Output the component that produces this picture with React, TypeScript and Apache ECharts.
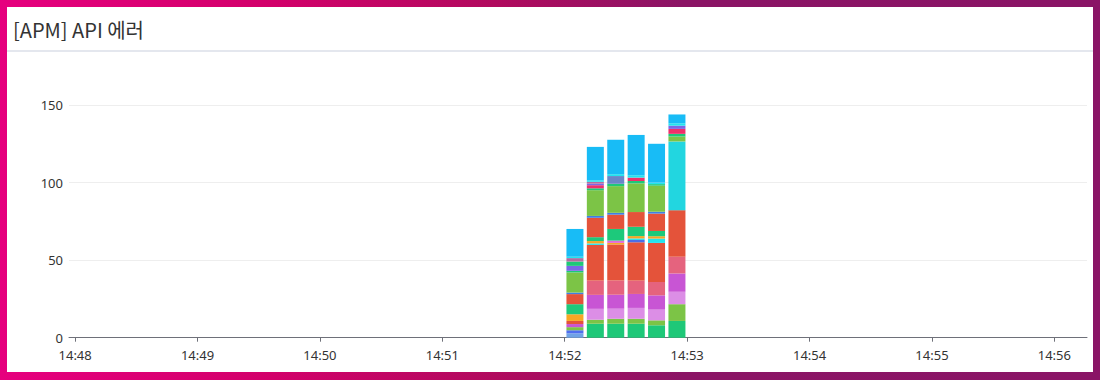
import React, { useEffect, useRef } from "react";
import * as echarts from "echarts";

// time buckets (bar centres, 10 s buckets)
const TIMES = ["14:52:05", "14:52:15", "14:52:25", "14:52:35", "14:52:45", "14:52:55"];
const AXIS_MIN = "14:47:57";
const AXIS_MAX = "14:56:16";
const Y_TICKS = [0, 50, 100, 150];

// stacked error counts, bottom -> top
const steelBlue = [2.8, 0, 0, 0, 0, 0];
const royalBlue = [2, 0, 0, 0, 0, 0];
const emerald = [0, 9, 9, 9, 8, 10.8];
const limeLow = [2, 2.6, 3.2, 3.2, 3.2, 10.8];
const lilac = [0, 7, 6.5, 7, 6.9, 8];
const orchid = [2, 9, 9, 9, 9.2, 11.8];
const rose = [0, 9.2, 9.2, 8.6, 8.6, 10.8];
const redMain = [2, 23, 23.2, 24.7, 25.2, 30];
const blueThin = [0, 0, 0, 1.5, 0, 0];
const cyanLow = [0, 1, 0, 1, 2.8, 0];
const orange = [4.3, 1.5, 1, 1.5, 1.5, 0];
const violetThin = [0, 0, 1.5, 0, 0, 0];
const teal = [6.5, 2.5, 7.5, 6, 3.4, 0];
const redUpper = [6.5, 12.5, 9.2, 9.5, 11.2, 0];
const blueLine = [1, 1.2, 1.2, 0, 1.2, 0];
const turquoise = [0, 0, 0, 0, 0, 44.3];
const limeHigh = [13, 16.6, 17.2, 18.5, 16.8, 3.2];
const greenThin = [1, 1.2, 1.5, 1.5, 1, 1.7];
const crimson = [0, 2, 0, 2.2, 0, 3.2];
const purple = [3.2, 1, 0, 0, 0, 2.1];
const tealHigh = [2.8, 0, 0, 0, 0, 0];
const slate = [0, 0, 5, 0, 0, 0];
const mauve = [2.2, 1.2, 0, 0, 0, 0];
const cyanHigh = [0.9, 1, 1.2, 1.5, 1, 1.5];
const sky = [17.9, 21.5, 22.2, 26, 25, 5.7];

const SERIES_LIST: [string, number[]][] = [
  ["steelBlue", steelBlue],
  ["royalBlue", royalBlue],
  ["emerald", emerald],
  ["limeLow", limeLow],
  ["lilac", lilac],
  ["orchid", orchid],
  ["rose", rose],
  ["redMain", redMain],
  ["blueThin", blueThin],
  ["cyanLow", cyanLow],
  ["orange", orange],
  ["violetThin", violetThin],
  ["teal", teal],
  ["redUpper", redUpper],
  ["blueLine", blueLine],
  ["turquoise", turquoise],
  ["limeHigh", limeHigh],
  ["greenThin", greenThin],
  ["crimson", crimson],
  ["purple", purple],
  ["tealHigh", tealHigh],
  ["slate", slate],
  ["mauve", mauve],
  ["cyanHigh", cyanHigh],
  ["sky", sky],
];

const COLORS: Record<string, string> = {
  steelBlue: "#6fa3e6",
  royalBlue: "#4f6ef0",
  emerald: "#1ec878",
  limeLow: "#7cc446",
  lilac: "#dc8ee6",
  orchid: "#c855d4",
  rose: "#e5637e",
  redMain: "#e4533a",
  blueThin: "#4a6de8",
  cyanLow: "#22e4ee",
  orange: "#f7a724",
  violetThin: "#e46ad6",
  teal: "#1dc97b",
  redUpper: "#e4533a",
  blueLine: "#3e7fe3",
  turquoise: "#22d6e0",
  limeHigh: "#7cc446",
  greenThin: "#1ec878",
  crimson: "#ef2f6a",
  purple: "#7b67e6",
  tealHigh: "#1ec878",
  slate: "#6a85c8",
  mauve: "#b46ba0",
  cyanHigh: "#22e4ee",
  sky: "#18bcf6",
};

const toTs = (hms: string) => {
  const [h, m, s] = hms.split(":").map(Number);
  return new Date(2024, 0, 15, h, m, s).getTime();
};

const GRID_LEFT = 69;
const GRID_RIGHT = 13;
const BAR_W = 17;

export default function App() {
  const ref = useRef<HTMLDivElement>(null);

  useEffect(() => {
    if (!ref.current) return;
    const chart = echarts.init(ref.current, undefined, { renderer: "svg" });
    const xs = TIMES.map(toTs);
    // ECharts widens a time axis holding bars by the bar overflow; pre-shrink so the
    // final drawn extent equals AXIS_MIN..AXIS_MAX.
    const axisLen = 1100 - GRID_LEFT - GRID_RIGHT;
    const lo = toTs(AXIS_MIN);
    const hi = toTs(AXIS_MAX);
    const span = hi - lo;
    const inner = span * (1 - BAR_W / axisLen);
    const pad = (span - inner) / 2;
    chart.setOption({
      animation: false,
      title: {
        text: "[APM] API 에러",
        left: 13,
        top: 19,
        padding: 0,
        textStyle: {
          fontSize: 20,
          fontWeight: "normal",
          color: "#333",
          fontFamily: '"Noto Sans CJK KR", "Noto Sans", sans-serif',
        },
      },
      grid: { left: GRID_LEFT, right: GRID_RIGHT, top: 105, bottom: 42.3 },
      xAxis: {
        type: "time",
        min: lo + pad,
        max: hi - pad,
        minInterval: 60000,
        maxInterval: 60000,
        splitLine: { show: false },
        axisLine: { lineStyle: { color: "#6e7079" } },
        axisTick: { show: true, length: 4, lineStyle: { color: "#6e7079" } },
        axisLabel: {
          formatter: "{HH}:{mm}",
          color: "#333",
          fontSize: 13,
          lineHeight: 14,
          margin: 10,
          fontFamily: '"Noto Sans", sans-serif',
        },
      },
      yAxis: {
        type: "value",
        min: Y_TICKS[0],
        max: Y_TICKS[Y_TICKS.length - 1],
        interval: Y_TICKS[1] - Y_TICKS[0],
        axisLine: { show: false },
        axisTick: { show: false },
        splitLine: { lineStyle: { color: "#eeeeee" } },
        axisLabel: {
          color: "#333",
          fontSize: 13,
          lineHeight: 13,
          margin: 6,
          padding: [0, 0, 2, 0],
          fontFamily: '"Noto Sans", sans-serif',
        },
      },
      series: SERIES_LIST.map(([name, vals]) => ({
        name,
        type: "bar",
        stack: "errors",
        barWidth: BAR_W,
        itemStyle: { color: COLORS[name] },
        data: vals.map((v, i) => [xs[i], v]),
      })),
    });
    return () => chart.dispose();
  }, []);

  return (
    <div
      style={{
        position: "fixed",
        left: 0,
        top: 0,
        width: 1100,
        height: 380,
        background:
          "linear-gradient(to right, #e6007e 0%, #d2006a 25%, #b10a5e 45%, #8b1465 62%, #8a1466 100%)",
      }}
    >
      <div
        style={{
          position: "absolute",
          left: 7,
          top: 7,
          width: 1086,
          height: 365,
          background: "#ffffff",
        }}
      />
      <div
        style={{
          position: "absolute",
          left: 7,
          top: 50,
          width: 1086,
          height: 2,
          background: "#e4e7ee",
        }}
      />
      <div
        ref={ref}
        style={{ position: "absolute", left: 0, top: 0, width: 1100, height: 380 }}
      />
    </div>
  );
}
